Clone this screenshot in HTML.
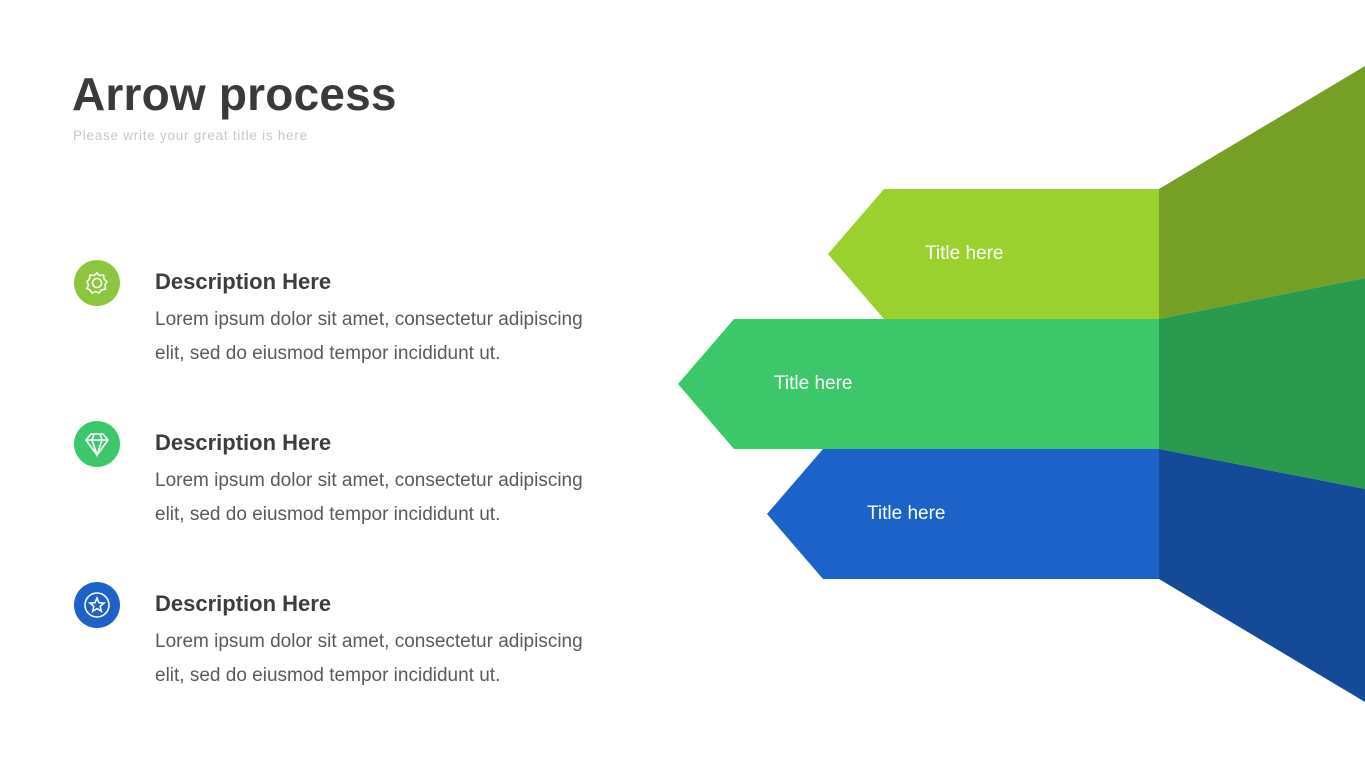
<!DOCTYPE html>
<html><head><meta charset="utf-8"><style>
html,body{margin:0;padding:0;background:#fff;}
body{width:1365px;height:768px;position:relative;overflow:hidden;font-family:"Liberation Sans",sans-serif;}
.t{position:absolute;}
h1{position:absolute;left:72px;top:67px;margin:0;font-size:46px;font-weight:bold;color:#3a3a3a;letter-spacing:0.2px;}
.sub{left:73px;top:128px;font-size:13.5px;color:#c8c8c8;letter-spacing:0.75px;}
.dh{font-size:22px;font-weight:bold;color:#3d3d3d;left:155px;}
.dp{font-size:19px;color:#5a5a5a;left:155px;line-height:34px;}
</style></head><body>
<h1>Arrow process</h1>
<div class="t sub">Please write your great title is here</div>

<svg width="1365" height="768" style="position:absolute;left:0;top:0">
<circle cx="97" cy="283" r="23" fill="#8cc63e"/>
<g transform="translate(97,283)" fill="none" stroke="#fff" stroke-width="1.6">
<circle r="4.5"/>
<path d="M0,-10 L2.5,-7.5 6.5,-8 7,-4 10,-1.5 8,2 8.5,6 4.5,7 2,10 -1.5,8.5 -5,10 -7,7 -10,5.5 -8.5,2 -10,-1.5 -7.5,-4 -7,-8 -3,-7.5Z"/>
</g>
<circle cx="97" cy="444" r="23" fill="#3cc86a"/>
<g transform="translate(97,444)" fill="none" stroke="#fff" stroke-width="1.6">
<path d="M-11,-4 L-6,-10 6,-10 11,-4 0,11Z M-11,-4 H11 M-3,-10 L-5,-4 0,11 5,-4 3,-10"/>
</g>
<circle cx="97" cy="605" r="23" fill="#1d62c9"/>
<g transform="translate(97,605)" fill="none" stroke="#fff" stroke-width="1.6">
<circle r="12"/>
<path d="M0,-7 L2,-2.3 7,-2 3.2,1.3 4.3,6.2 0,3.6 -4.3,6.2 -3.2,1.3 -7,-2 -2,-2.3Z"/>
</g>

<polygon points="1159,189 1365,66 1365,278 1159,319" fill="#769f25"/>
<polygon points="1159,319 1365,278 1365,489 1159,449" fill="#2a9a4e"/>
<polygon points="1159,449 1365,489 1365,702 1159,579" fill="#154a98"/>
<polygon points="884,189 1159,189 1159,319 884,319 828,254" fill="#9ad12f"/>
<polygon points="734,319 1159,319 1159,449 734,449 678,384" fill="#3cc86a"/>
<polygon points="823,449 1159,449 1159,579 823,579 767,514" fill="#1d62c9"/>
<g font-family="Liberation Sans, sans-serif" font-size="19" fill="#fff">
<text x="925" y="259">Title here</text>
<text x="774" y="389">Title here</text>
<text x="867" y="519">Title here</text>
</g>
</svg>

<div class="t dh" style="top:269px">Description Here</div>
<div class="t dp" style="top:303px">Lorem ipsum dolor sit amet, consectetur adipiscing<br>elit, sed do eiusmod tempor incididunt ut.</div>
<div class="t dh" style="top:430px">Description Here</div>
<div class="t dp" style="top:464px">Lorem ipsum dolor sit amet, consectetur adipiscing<br>elit, sed do eiusmod tempor incididunt ut.</div>
<div class="t dh" style="top:591px">Description Here</div>
<div class="t dp" style="top:625px">Lorem ipsum dolor sit amet, consectetur adipiscing<br>elit, sed do eiusmod tempor incididunt ut.</div>
</body></html>
